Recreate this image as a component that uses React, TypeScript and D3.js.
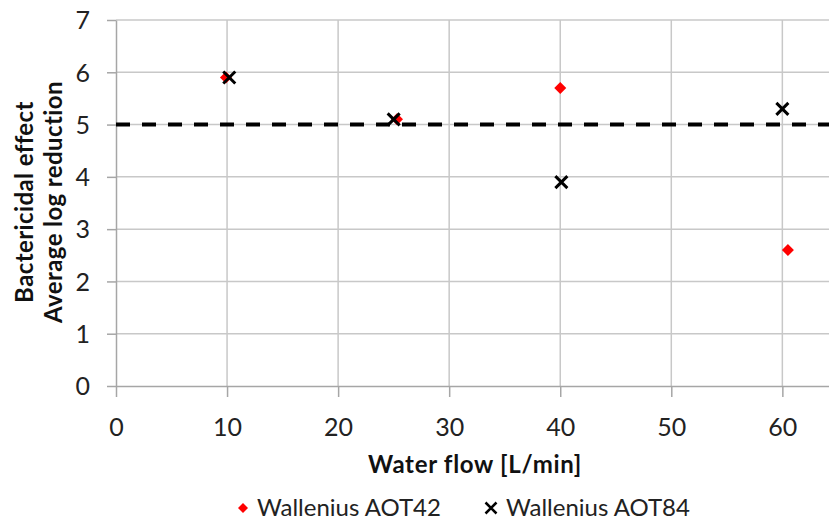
import React, { useEffect, useRef } from 'react';
import * as d3 from 'd3';

// Water flow [L/min] vs. average log reduction
const aot42Flow = [9.9, 25.3, 40.0, 60.5];
const aot42Log = [5.9, 5.1, 5.7, 2.6];
const aot84Flow = [10.2, 25.0, 40.1, 60.0];
const aot84Log = [5.9, 5.1, 3.9, 5.3];
const xTicks = [0, 10, 20, 30, 40, 50, 60];
const yTicks = [0, 1, 2, 3, 4, 5, 6, 7];
const threshold = 5;
const seriesNames = ['Wallenius AOT42', 'Wallenius AOT84'];

const width = 829;
const height = 521;
const font = 'Lato, "Open Sans", sans-serif';

export default function App() {
  const svgRef = useRef<SVGSVGElement>(null);

  useEffect(() => {
    if (!svgRef.current) return;
    const svg = d3.select(svgRef.current);
    svg.selectAll('*').remove();

    const margin = { left: 116, right: 0, top: 20, bottom: 135 };

    const x = d3.scaleLinear().domain([0, 64.2]).range([margin.left, width]);
    const y = d3.scaleLinear().domain([0, 7]).range([height - margin.bottom, margin.top]);

    const g = svg.append('g');

    // gridlines
    g.selectAll('line.hgrid')
      .data(yTicks.filter(d => d > 0))
      .enter()
      .append('line')
      .attr('x1', x(0))
      .attr('x2', width)
      .attr('y1', d => y(d))
      .attr('y2', d => y(d))
      .attr('stroke', '#c8c8c8')
      .attr('stroke-width', 1.5);

    g.selectAll('line.vgrid')
      .data(xTicks.filter(d => d > 0))
      .enter()
      .append('line')
      .attr('x1', d => x(d))
      .attr('x2', d => x(d))
      .attr('y1', y(7))
      .attr('y2', y(0))
      .attr('stroke', '#c8c8c8')
      .attr('stroke-width', 1.5);

    // axes
    const xAxis = d3.axisBottom(x).tickValues(xTicks).tickFormat(d3.format('d')).tickSize(11).tickSizeOuter(0);
    const yAxis = d3.axisLeft(y).tickValues(yTicks).tickFormat(d3.format('d')).tickSize(9).tickSizeOuter(0);

    const xg = g.append('g').attr('transform', `translate(0,${y(0)})`).call(xAxis);
    xg.select('.domain').attr('stroke', '#a6a6a6').attr('stroke-width', 1.5);
    xg.selectAll('.tick line').attr('stroke', '#a6a6a6').attr('stroke-width', 1.5);
    xg.selectAll('.tick text')
      .attr('font-family', font)
      .attr('font-size', 25)
      .attr('fill', '#222')
      .attr('dy', 0)
      .attr('y', 50);

    const yg = g.append('g').attr('transform', `translate(${x(0)},0)`).call(yAxis);
    yg.select('.domain').attr('stroke', '#a6a6a6').attr('stroke-width', 1.5);
    yg.selectAll('.tick line').attr('stroke', '#a6a6a6').attr('stroke-width', 1.5);
    yg.selectAll('.tick text')
      .attr('font-family', font)
      .attr('font-size', 25)
      .attr('fill', '#222')
      .attr('x', -26)
      .attr('dy', '0.35em');

    // threshold line
    g.append('line')
      .attr('x1', x(0))
      .attr('x2', width)
      .attr('y1', y(threshold))
      .attr('y2', y(threshold))
      .attr('stroke', '#000')
      .attr('stroke-width', 4)
      .attr('stroke-dasharray', '14 12');

    // AOT42 diamonds
    const diamond = d3.symbol().type(d3.symbolSquare).size(72);
    g.selectAll('path.aot42')
      .data(aot42Flow.map((f, i) => [f, aot42Log[i]]))
      .enter()
      .append('path')
      .attr('d', diamond)
      .attr('transform', d => `translate(${x(d[0])},${y(d[1])}) rotate(45)`)
      .attr('fill', '#ff0000');

    // AOT84 crosses
    const cross = (s: number) => `M${-s},${-s}L${s},${s}M${-s},${s}L${s},${-s}`;
    g.selectAll('path.aot84')
      .data(aot84Flow.map((f, i) => [f, aot84Log[i]]))
      .enter()
      .append('path')
      .attr('d', cross(6))
      .attr('transform', d => `translate(${x(d[0])},${y(d[1])})`)
      .attr('stroke', '#000')
      .attr('stroke-width', 3)
      .attr('fill', 'none');

    // axis titles
    g.append('text')
      .attr('x', 475)
      .attr('y', 473)
      .attr('text-anchor', 'middle')
      .attr('font-family', font)
      .attr('font-weight', 'bold')
      .attr('font-size', 24)
      .attr('letter-spacing', 0.7)
      .attr('fill', '#111')
      .text('Water flow [L/min]');

    const yt = g.append('text')
      .attr('transform', 'translate(0,202) rotate(-90)')
      .attr('text-anchor', 'middle')
      .attr('font-family', font)
      .attr('font-weight', 'bold')
      .attr('font-size', 24)
      .attr('letter-spacing', 0.4)
      .attr('fill', '#111');
    yt.append('tspan').attr('x', 0).attr('y', 33).text('Bactericidal effect');
    yt.append('tspan').attr('x', 0).attr('y', 62).text('Average log reduction');

    // legend
    const legY = 508;
    g.append('path')
      .attr('d', d3.symbol().type(d3.symbolSquare).size(50)())
      .attr('transform', `translate(243,${legY}) rotate(45)`)
      .attr('fill', '#ff0000');
    g.append('text')
      .attr('x', 257)
      .attr('y', legY + 8)
      .attr('font-family', font)
      .attr('font-size', 24)
      .attr('fill', '#222')
      .text(seriesNames[0]);
    g.append('path')
      .attr('d', cross(5.5))
      .attr('transform', `translate(491,${legY})`)
      .attr('stroke', '#000')
      .attr('stroke-width', 2.5);
    g.append('text')
      .attr('x', 506)
      .attr('y', legY + 8)
      .attr('font-family', font)
      .attr('font-size', 24)
      .attr('fill', '#222')
      .text(seriesNames[1]);
  }, []);

  return (
    <svg
      ref={svgRef}
      width={width}
      height={height}
      style={{ position: 'absolute', left: 0, top: 0, background: '#fff' }}
    />
  );
}
